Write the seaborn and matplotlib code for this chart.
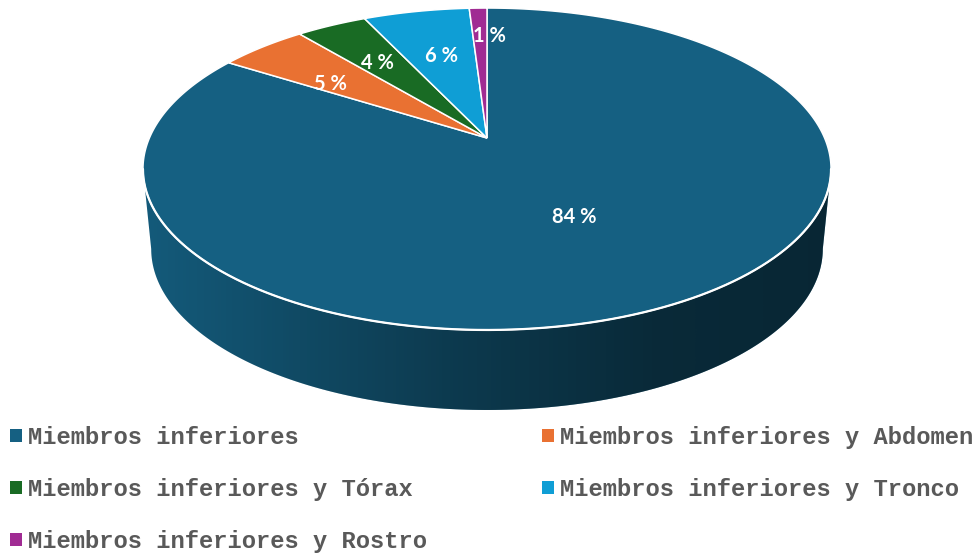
import numpy as np
import matplotlib
matplotlib.use("Agg")
import matplotlib.pyplot as plt
import seaborn as sns
from matplotlib.patches import Polygon, Patch
from matplotlib.colors import LinearSegmentedColormap
from matplotlib.font_manager import FontProperties

# ---------------- data ----------------
categories = ["Miembros inferiores", "Miembros inferiores y Abdomen",
              "Miembros inferiores y Tórax", "Miembros inferiores y Tronco",
              "Miembros inferiores y Rostro"]
values = [84, 5, 4, 6, 1]
pct_labels = ["84 %", "5 %", "4 %", "6 %", "1 %"]
colors = ["#156082", "#E97132", "#196B24", "#0F9ED5", "#A02B93"]

# ---------------- style / layout ----------------
label_radius = [0.49, 0.67, 0.67, 0.64, 0.86]
label_shift_px = [(0, 6), (0, 9), (0, 4.5), (2.5, 3.5), (10, 12)]

sns.set_theme(style="white")
plt.rcParams["font.family"] = ["Lato", "DejaVu Sans"]

W, H = 978, 554
fig = plt.figure(figsize=(W / 100, H / 100), dpi=100)
ax = fig.add_axes([0, 0, 1, 1])
ax.set_xlim(0, W)
ax.set_ylim(H, 0)
ax.axis("off")

# perspective projection of a unit disc onto the canvas
CX, CY = 487, 138          # image of disc centre
A, B, K = 337.6, 155.0, 0.1926
DEPTH = 80
BOTTOM_SCALE = 0.976


def proj(t, r=1.0, scale=1.0, dy=0.0):
    X = r * np.cos(t)
    Y = r * np.sin(t)
    d = 1 + K * Y
    return CX + scale * A * X / d, CY - B * Y / d + dy


# slice angles: start at 12 o'clock, go clockwise
vals = np.asarray(values, dtype=float)
fracs = vals / vals.sum()
bounds = np.pi / 2 - 2 * np.pi * np.concatenate([[0], np.cumsum(fracs)])

# ---------------- side wall ----------------
t_left = np.pi + np.arcsin(K)
t_right = 2 * np.pi - np.arcsin(K)


def norm_interval(a_hi, a_lo):
    segs = []
    for shift in (-2 * np.pi, 0, 2 * np.pi, 4 * np.pi):
        hi, lo = a_hi + shift, a_lo + shift
        s, e = max(lo, t_left), min(hi, t_right)
        if e > s:
            segs.append((s, e))
    return segs


wall_cmap = LinearSegmentedColormap.from_list(
    "shade", [(0.0, (0, 0, 0, 0.06)), (0.45, (0, 0, 0, 0.40)),
              (0.75, (0, 0, 0, 0.57)), (1.0, (0, 0, 0, 0.60))])

for i in range(len(values)):
    for s, e in norm_interval(bounds[i], bounds[i + 1]):
        tt = np.linspace(s, e, 200)
        xt, yt = proj(tt)
        xb, yb = proj(tt[::-1], scale=BOTTOM_SCALE, dy=DEPTH)
        poly = Polygon(np.column_stack([np.r_[xt, xb], np.r_[yt, yb]]),
                       closed=True, facecolor=colors[i], edgecolor="none",
                       zorder=1)
        ax.add_patch(poly)
        xmin_w, _ = proj(t_left)
        xmax_w, _ = proj(t_right)
        grad = np.linspace(0, 1, 512)[None, :]
        im = ax.imshow(grad, cmap=wall_cmap, extent=(xmin_w, xmax_w, 420, 150),
                       aspect="auto", zorder=1.5, interpolation="bilinear")
        im.set_clip_path(poly)

# ---------------- top face ----------------
for i in range(len(values)):
    tt = np.linspace(bounds[i], bounds[i + 1], 400)
    xs, ys = proj(tt)
    ax.fill(np.r_[CX, xs], np.r_[CY, ys], facecolor=colors[i],
            edgecolor="white", linewidth=1.1, zorder=2)

# white rim on the front edge
tt = np.linspace(t_left, t_right, 300)
xs, ys = proj(tt)
ax.plot(xs, ys, color="white", lw=1.6, zorder=3, solid_capstyle="round")

# ---------------- labels ----------------
for i in range(len(values)):
    mid = 0.5 * (bounds[i] + bounds[i + 1])
    x, y = proj(mid, r=label_radius[i])
    dx, dy = label_shift_px[i]
    ax.text(x + dx, y + dy, pct_labels[i], color="white", fontsize=14.5,
            fontweight="bold", ha="center", va="center", zorder=4)

# ---------------- legend ----------------
handles = [Patch(facecolor=c, edgecolor="none") for c in colors]
order = [0, 2, 4, 1, 3]
fig.legend([handles[j] for j in order], [categories[j] for j in order],
           loc="upper left", bbox_to_anchor=(10 / W, 1 - 426 / H),
           ncol=2, frameon=False,
           prop=FontProperties(family="Liberation Mono", weight="bold", size=17.1),
           labelcolor="#595959", handlelength=0.5, handleheight=0.5,
           handletextpad=0.25, labelspacing=1.22, columnspacing=4.85,
           borderpad=0, borderaxespad=0)

fig.savefig("out.png", dpi=100, facecolor="white")
